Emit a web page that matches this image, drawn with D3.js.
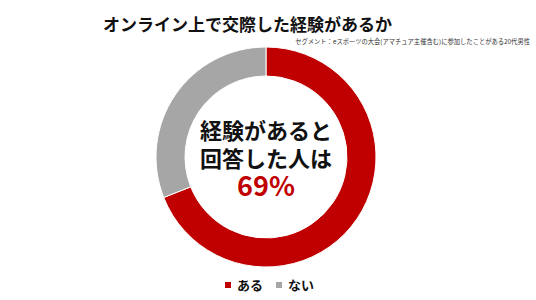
<!DOCTYPE html>
<html>
<head>
<meta charset="utf-8">
<script src="https://cdn.jsdelivr.net/npm/d3@7"></script>
<style>
  body { margin: 0; background: #fff; }
  svg text { font-family: "Noto Sans CJK JP", "Noto Sans", sans-serif; }
</style>
</head>
<body>
<svg id="chart"></svg>
<script>
// data
const categories = ["ある", "ない"];
const values = [69, 31];
const colors = ["#c00000", "#a6a6a6"];
const title = "オンライン上で交際した経験があるか";
const segment = "セグメント：eスポーツの大会(アマチュア主催含む)に参加したことがある20代男性";
const centerLines = ["経験があると", "回答した人は"];
const centerValue = "69%";

const width = 536, height = 300;
const cx = 266, cy = 157;
const outerR = 110, innerR = 81;

const svg = d3.select("#chart")
  .attr("width", width)
  .attr("height", height);

svg.append("text")
  .attr("x", 103)
  .attr("y", 31)
  .attr("font-size", 17)
  .attr("font-weight", 700)
  .attr("fill", "#111")
  .text(title);

svg.append("text")
  .attr("x", 530)
  .attr("y", 44)
  .attr("text-anchor", "end")
  .attr("font-size", 6.3)
  .attr("fill", "#333")
  .text(segment);

const pie = d3.pie().sort(null).value(d => d);
const arc = d3.arc().innerRadius(innerR).outerRadius(outerR);

const g = svg.append("g")
  .attr("transform", `translate(${cx},${cy})`);

g.selectAll("path")
  .data(pie(values))
  .join("path")
  .attr("d", arc)
  .attr("fill", (d, i) => colors[i])
  .attr("stroke", "#fff")
  .attr("stroke-width", 1);

// center label
g.selectAll(".center-line")
  .data(centerLines)
  .join("text")
  .attr("class", "center-line")
  .attr("text-anchor", "middle")
  .attr("y", (d, i) => -26 + i * 28)
  .attr("dy", "0.35em")
  .attr("font-size", 22)
  .attr("font-weight", 700)
  .attr("fill", "#111")
  .text(d => d);

g.append("text")
  .attr("text-anchor", "middle")
  .attr("y", 30)
  .attr("dy", "0.35em")
  .attr("font-size", 27)
  .attr("font-weight", 700)
  .attr("fill", colors[0])
  .text(centerValue);

// legend
const legendX = [225, 276];
const legend = svg.append("g").attr("class", "legend");
const items = legend.selectAll("g")
  .data(categories)
  .join("g")
  .attr("transform", (d, i) => `translate(${legendX[i]},285)`);

items.append("rect")
  .attr("x", 0)
  .attr("y", -3)
  .attr("width", 6)
  .attr("height", 6)
  .attr("fill", (d, i) => colors[i]);

items.append("text")
  .attr("x", 12)
  .attr("dy", "0.36em")
  .attr("font-size", 13)
  .attr("font-weight", 700)
  .attr("fill", "#111")
  .text(d => d);
</script>
</body>
</html>
